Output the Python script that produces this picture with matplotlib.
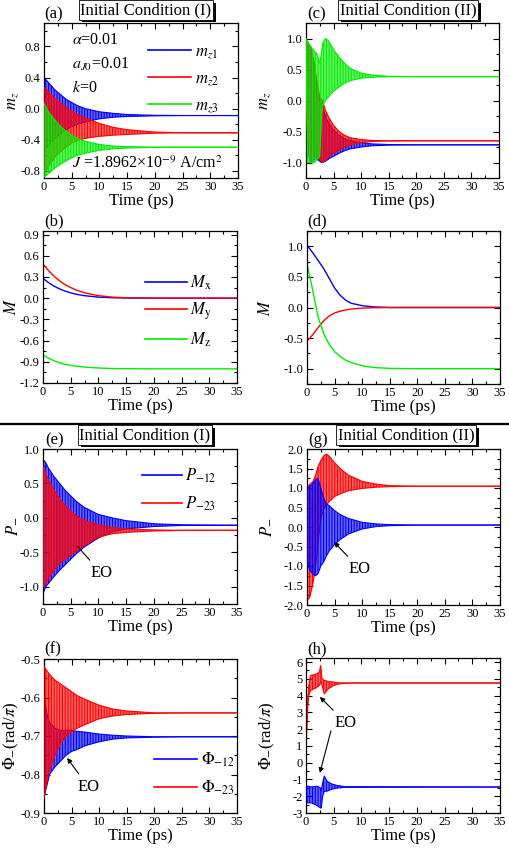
import matplotlib
matplotlib.use("Agg")
import matplotlib.pyplot as plt
import matplotlib.patheffects as pe
from matplotlib.colors import to_rgba
from matplotlib.lines import Line2D
from matplotlib.ticker import MultipleLocator

plt.rcParams['font.family'] = ['Liberation Serif', 'DejaVu Serif']
plt.rcParams['mathtext.fontset'] = 'stix'
plt.rcParams['hatch.linewidth'] = 0.8

W, H = 510, 849
BLUE, RED, GREEN = '#0000FF', '#FF0000', '#00EE00'

# ---------------- data ----------------
X_TICKS = [0, 5, 10, 15, 20, 25, 30, 35]
X_LABELS = ['0', '5', '10', '15', '20', '25', '30', '35']

# (a) Initial condition (I): m_z envelopes
TA = [0, 0.5, 1, 2, 3, 4, 5, 6, 7.5, 10, 12.5, 15, 20, 25, 35]
MZ1_UP = [0.40, 0.36, 0.32, 0.24, 0.18, 0.12, 0.08, 0.04, 0.0, -0.04, -0.06, -0.075, -0.085, -0.088, -0.088]
MZ1_LO = [-0.55, -0.5, -0.45, -0.38, -0.32, -0.27, -0.23, -0.2, -0.17, -0.13, -0.11, -0.10, -0.092, -0.088, -0.088]
MZ2_UP = [0.27, 0.24, 0.20, 0.13, 0.07, 0.02, -0.03, -0.07, -0.12, -0.19, -0.24, -0.27, -0.30, -0.31, -0.31]
MZ2_LO = [-0.85, -0.78, -0.72, -0.62, -0.55, -0.49, -0.44, -0.41, -0.38, -0.355, -0.34, -0.33, -0.315, -0.31, -0.31]
MZ3_UP = [0.07, 0.0, -0.06, -0.15, -0.23, -0.29, -0.34, -0.38, -0.42, -0.46, -0.48, -0.488, -0.494, -0.495, -0.495]
MZ3_LO = [-0.88, -0.85, -0.82, -0.76, -0.71, -0.67, -0.63, -0.6, -0.57, -0.535, -0.515, -0.505, -0.497, -0.495, -0.495]
YT_A = [-0.8, -0.4, 0.0, 0.4, 0.8]
YL_A = ['-0.8', '-0.4', '0.0', '0.4', '0.8']

# (b) Initial condition (I): M components
TB = [0, 1, 2, 3, 4, 5, 6, 7.5, 10, 12.5, 15, 20, 35]
MX_B = [0.28, 0.22, 0.17, 0.13, 0.10, 0.075, 0.055, 0.035, 0.015, 0.006, 0.002, 0.0, 0.0]
MY_B = [0.48, 0.39, 0.31, 0.245, 0.19, 0.15, 0.115, 0.075, 0.035, 0.015, 0.006, 0.001, 0.0]
MZ_B = [-0.80, -0.85, -0.885, -0.915, -0.935, -0.95, -0.962, -0.975, -0.988, -0.995, -0.998, -1.0, -1.0]
YT_B = [-1.2, -0.9, -0.6, -0.3, 0.0, 0.3, 0.6, 0.9]
YL_B = ['-1.2', '-0.9', '-0.6', '-0.3', '0.0', '0.3', '0.6', '0.9']

# (c) Initial condition (II): m_z envelopes
TC = [0, 0.3, 0.6, 1, 1.5, 2, 2.5, 2.8, 3, 3.5, 4, 4.5, 5, 6, 7, 8, 10, 12, 15, 20, 35]
GC_UP = [1.0, 0.95, 0.9, 0.85, 0.8, 0.75, 0.6, 0.75, 0.92, 1.0, 0.97, 0.9, 0.82, 0.7, 0.6, 0.52, 0.44, 0.41, 0.39, 0.385, 0.385]
GC_LO = [0.8, -1.0, -1.0, -1.0, -1.0, -0.95, -0.9, -0.3, -0.1, 0.0, 0.05, 0.1, 0.15, 0.22, 0.28, 0.32, 0.36, 0.375, 0.383, 0.385, 0.385]
RC_UP = [0.95, 0.95, 0.9, 0.85, 0.6, 0.3, 0.05, 0.02, 0.0, -0.15, -0.25, -0.33, -0.4, -0.5, -0.56, -0.6, -0.63, -0.645, -0.65, -0.65, -0.65]
RC_LO = [-0.1, -0.6, -0.9, -0.95, -0.9, -0.9, -0.95, -0.98, -1.0, -0.97, -0.92, -0.88, -0.85, -0.8, -0.75, -0.72, -0.68, -0.66, -0.652, -0.65, -0.65]
BC_UP = [0.9, 0.9, 0.85, 0.8, 0.55, 0.25, 0.0, -0.05, -0.1, -0.25, -0.35, -0.42, -0.48, -0.56, -0.62, -0.65, -0.68, -0.70, -0.71, -0.715, -0.715]
BC_LO = [-0.3, -0.7, -0.95, -1.0, -0.95, -0.95, -0.98, -1.0, -1.0, -0.98, -0.95, -0.92, -0.9, -0.85, -0.81, -0.78, -0.75, -0.73, -0.72, -0.715, -0.715]
YT_C = [-1.0, -0.5, 0.0, 0.5, 1.0]
YL_C = ['-1.0', '-0.5', '0.0', '0.5', '1.0']

# (d) Initial condition (II): M components
TD = [0, 1, 2, 3, 4, 5, 6, 7, 8, 10, 12, 15, 20, 35]
MX_D = [1.02, 0.9, 0.77, 0.64, 0.48, 0.32, 0.2, 0.12, 0.07, 0.03, 0.01, 0.0, 0.0, 0.0]
MY_D = [-0.55, -0.45, -0.33, -0.22, -0.14, -0.09, -0.06, -0.04, -0.025, -0.01, -0.004, 0.0, 0.0, 0.0]
MZ_D = [0.71, 0.3, -0.15, -0.42, -0.6, -0.72, -0.8, -0.86, -0.9, -0.95, -0.98, -0.995, -1.0, -1.0]

# (e) Initial condition (I): P envelopes
TE = [0, 0.5, 1, 2, 3, 4, 5, 6, 7.5, 10, 12.5, 15, 20, 25, 35]
P12E_UP = [0.85, 0.8, 0.72, 0.6, 0.5, 0.4, 0.32, 0.24, 0.15, 0.05, 0.0, -0.04, -0.085, -0.1, -0.107]
P12E_LO = [-1.1, -1.0, -0.95, -0.85, -0.76, -0.68, -0.6, -0.52, -0.42, -0.29, -0.2, -0.16, -0.125, -0.11, -0.107]
P23E_UP = [0.75, 0.65, 0.55, 0.4, 0.28, 0.18, 0.1, 0.03, -0.04, -0.1, -0.14, -0.16, -0.175, -0.18, -0.18]
P23E_LO = [-1.0, -0.95, -0.88, -0.76, -0.66, -0.6, -0.54, -0.48, -0.4, -0.28, -0.23, -0.21, -0.19, -0.182, -0.18]
YT_E = [-1.0, -0.5, 0.0, 0.5, 1.0]
YL_E = ['-1.0', '-0.5', '0.0', '0.5', '1.0']

# (g) Initial condition (II): P envelopes
TG = [0, 0.25, 0.5, 1, 1.5, 2, 2.5, 3, 3.5, 4, 5, 6, 7.5, 10, 12.5, 15, 20, 35]
P23G_UP = [1.0, 1.05, 1.1, 1.15, 1.3, 1.55, 1.7, 1.82, 1.87, 1.82, 1.65, 1.5, 1.33, 1.17, 1.1, 1.06, 1.045, 1.045]
P23G_LO = [-1.8, -1.85, -1.8, -1.5, -1.1, -0.4, 0.2, 0.45, 0.55, 0.65, 0.78, 0.85, 0.93, 0.99, 1.02, 1.035, 1.045, 1.045]
P12G_UP = [0.9, 1.0, 1.05, 1.1, 1.2, 1.25, 1.0, 0.75, 0.6, 0.55, 0.42, 0.32, 0.22, 0.12, 0.08, 0.06, 0.05, 0.05]
P12G_LO = [-0.8, -1.0, -1.1, -1.2, -1.25, -1.2, -1.0, -0.9, -0.75, -0.62, -0.45, -0.32, -0.18, -0.05, 0.01, 0.035, 0.05, 0.05]
YT_G = [-2.0, -1.5, -1.0, -0.5, 0.0, 0.5, 1.0, 1.5, 2.0]
YL_G = ['-2.0', '-1.5', '-1.0', '-0.5', '0.0', '0.5', '1.0', '1.5', '2.0']

# (f) Initial condition (I): phase envelopes
TF = [0, 0.5, 1, 2, 3, 4, 5, 6, 7.5, 10, 12.5, 15, 20, 25, 35]
F23_UP = [-0.52, -0.53, -0.54, -0.555, -0.565, -0.575, -0.585, -0.595, -0.605, -0.62, -0.63, -0.635, -0.64, -0.64, -0.64]
F23_LO = [-0.86, -0.82, -0.79, -0.75, -0.72, -0.70, -0.69, -0.68, -0.67, -0.655, -0.648, -0.644, -0.641, -0.64, -0.64]
F12_UP = [-0.6, -0.64, -0.665, -0.68, -0.685, -0.685, -0.685, -0.688, -0.69, -0.695, -0.698, -0.7, -0.702, -0.702, -0.702]
F12_LO = [-0.86, -0.83, -0.8, -0.78, -0.765, -0.75, -0.74, -0.735, -0.725, -0.715, -0.708, -0.705, -0.703, -0.702, -0.702]
YT_F = [-0.9, -0.8, -0.7, -0.6, -0.5]
YL_F = ['-0.9', '-0.8', '-0.7', '-0.6', '-0.5']

# (h) Initial condition (II): phase envelopes
TH_R = [0, 0.15, 0.3, 0.5, 0.8, 1.5, 2.0, 2.4, 2.65, 2.9, 3.3, 4, 5, 6, 8, 35]
F23H_UP = [0.9, 2.6, 3.8, 4.6, 5.2, 5.25, 5.3, 5.4, 5.8, 5.0, 4.9, 4.85, 4.8, 4.76, 4.75, 4.75]
F23H_LO = [0.8, 2.0, 3.2, 4.0, 4.3, 4.4, 4.5, 4.6, 4.8, 4.6, 4.1, 4.4, 4.6, 4.7, 4.75, 4.75]
TH_B = [0, 0.3, 1, 2, 2.6, 2.75, 3.0, 3.3, 3.8, 4.5, 5.5, 7, 35]
F12H_UP = [-1.5, -1.4, -1.45, -1.4, -1.5, -1.7, -1.2, -0.8, -1.1, -1.25, -1.35, -1.43, -1.45]
F12H_LO = [-1.6, -2.4, -2.4, -2.55, -2.7, -2.7, -2.0, -1.7, -1.7, -1.6, -1.52, -1.47, -1.45]
YT_H = [-3, -2, -1, 0, 1, 2, 3, 4, 5, 6]
YL_H = ['-3', '-2', '-1', '0', '1', '2', '3', '4', '5', '6']

# ---------------- figure ----------------
fig = plt.figure(figsize=(W / 100, H / 100), dpi=100)


def add_axes(x0, y0, x1, y1):
    return fig.add_axes([x0 / W, 1 - y1 / H, (x1 - x0) / W, (y1 - y0) / H])


def fx(px):
    return px / W


def fy(py):
    return 1 - py / H


def style(ax, ylim, yt, yl, yminor, ylabel, ylab_x):
    ax.set_xlim(0, 35)
    ax.set_ylim(*ylim)
    ax.set_xticks(X_TICKS)
    ax.set_xticklabels(X_LABELS)
    ax.set_yticks(yt)
    ax.set_yticklabels(yl)
    ax.xaxis.set_minor_locator(MultipleLocator(2.5))
    ax.yaxis.set_minor_locator(MultipleLocator(yminor))
    ax.tick_params(which='both', direction='in', top=True, right=True,
                   labelsize=9, width=0.8, pad=2.5)
    ax.tick_params(which='major', length=4)
    ax.tick_params(which='minor', length=2)
    for s in ax.spines.values():
        s.set_linewidth(0.9)
    ax.set_xlabel('Time (ps)', fontsize=12, labelpad=0)
    ax.set_ylabel(ylabel, fontsize=12)
    ax.yaxis.set_label_coords(ylab_x, 0.5)


def band(ax, t, up, lo, color, z):
    ax.fill_between(t, lo, up, facecolor=to_rgba(color, 0.6), edgecolor=color,
                    hatch='||||||', linewidth=0, zorder=z)
    ax.plot(t, up, color=color, lw=0.8, zorder=z + 0.1)
    ax.plot(t, lo, color=color, lw=0.8, zorder=z + 0.1)


def title_box(xc, yc, text):
    t = fig.text(fx(xc), fy(yc), text, ha='center', va='center', fontsize=12,
                 bbox=dict(boxstyle='square,pad=0.1', fc='white', ec='black', lw=0.6))
    t.get_bbox_patch().set_path_effects(
        [pe.withSimplePatchShadow(offset=(2.0, -2.0), shadow_rgbFace='black', alpha=1.0)])


def legend(ax, handles, labels, x0, ytop, hl, spacing):
    leg = ax.legend(handles, labels, loc='upper left', bbox_to_anchor=(fx(x0), fy(ytop)),
                    bbox_transform=fig.transFigure, frameon=False, fontsize=12,
                    handlelength=hl, handletextpad=0.2, borderpad=0, borderaxespad=0,
                    labelspacing=spacing)
    return leg


ARROW = dict(arrowstyle='-|>', color='black', lw=0.8, mutation_scale=7, shrinkA=2, shrinkB=0)

# (a)
axa = add_axes(44, 23, 238, 178)
band(axa, TA, MZ1_UP, MZ1_LO, BLUE, 2)
band(axa, TA, MZ2_UP, MZ2_LO, RED, 3)
band(axa, TA, MZ3_UP, MZ3_LO, GREEN, 4)
style(axa, (-0.89, 1.1), YT_A, YL_A, 0.2, r'$m_z$', -0.12)
hA = [Line2D([], [], color=c, lw=1.2) for c in (BLUE, RED, GREEN)]
legend(axa, hA, [r'$m_{z1}$', r'$m_{z2}$', r'$m_{z3}$'], 148, 44, 2.6, 0.6)
fig.text(fx(72), fy(40), r'$\alpha$=0.01', fontsize=11.5, va='center')
fig.text(fx(72), fy(64), r'$a_{J0}$=0.01', fontsize=11.5, va='center')
fig.text(fx(72), fy(88), r'$k$=0', fontsize=11.5, va='center')
fig.text(fx(72), fy(164), r'$J$ =1.8962×10$^{-9}$ A/cm$^{2}$', fontsize=11.5, va='center')

# (b)
axb = add_axes(43, 231, 237, 383)
axb.plot(TB, MX_B, color=BLUE, lw=1)
axb.plot(TB, MY_B, color=RED, lw=1)
axb.plot(TB, MZ_B, color=GREEN, lw=1)
style(axb, (-1.2, 0.95), YT_B, YL_B, 0.15, r'$M$', -0.12)
hB = [Line2D([], [], color=c, lw=1.2) for c in (BLUE, RED, GREEN)]
legend(axb, hB, [r'$M_{\mathrm{x}}$', r'$M_{\mathrm{y}}$', r'$M_{\mathrm{z}}$'], 145, 274, 2.5, 0.5)

# (c)
axc = add_axes(306, 23, 499, 178)
band(axc, TC, BC_UP, BC_LO, BLUE, 2)
band(axc, TC, RC_UP, RC_LO, RED, 3)
band(axc, TC, GC_UP, GC_LO, GREEN, 4)
style(axc, (-1.25, 1.25), YT_C, YL_C, 0.25, r'$m_z$', -0.17)

# (d)
axd = add_axes(307, 231, 500, 384)
axd.plot(TD, MX_D, color=BLUE, lw=1)
axd.plot(TD, MY_D, color=RED, lw=1)
axd.plot(TD, MZ_D, color=GREEN, lw=1)
style(axd, (-1.25, 1.25), YT_C, YL_C, 0.25, r'$M$', -0.17)

# (e)
axe = add_axes(43, 449, 237, 604)
band(axe, TE, P12E_UP, P12E_LO, BLUE, 2)
band(axe, TE, P23E_UP, P23E_LO, RED, 3)
style(axe, (-1.25, 1.0), YT_E, YL_E, 0.25, r'$P_{-}$', -0.12)
hE = [Line2D([], [], color=c, lw=1.2) for c in (BLUE, RED)]
legend(axe, hE, [r'$P_{\mathrm{-12}}$', r'$P_{\mathrm{-23}}$'], 142, 467, 2.4, 0.55)
axe.annotate('EO', xy=(6.3, -0.42), xytext=(10.5, -0.8), fontsize=12, ha='center', va='center',
             arrowprops=dict(arrowstyle='-', color='black', lw=0.8, shrinkA=2, shrinkB=0))

# (g)
axg = add_axes(307, 449, 500, 605)
band(axg, TG, P12G_UP, P12G_LO, BLUE, 3)
band(axg, TG, P23G_UP, P23G_LO, RED, 2)
style(axg, (-2.0, 2.0), YT_G, YL_G, 0.25, r'$P_{-}$', -0.17)
axg.annotate('EO', xy=(4.9, -0.385), xytext=(9.6, -1.08), fontsize=12, ha='center', va='center',
             arrowprops=ARROW)

# (f)
axf = add_axes(44, 659, 237, 813)
band(axf, TF, F12_UP, F12_LO, BLUE, 2)
band(axf, TF, F23_UP, F23_LO, RED, 3)
style(axf, (-0.9, -0.5), YT_F, YL_F, 0.05, r'$\Phi_{-}$(rad/$\pi$)', -0.12)
hF = [Line2D([], [], color=c, lw=1.2) for c in (BLUE, RED)]
legend(axf, hF, [r'$\Phi_{\mathrm{-12}}$', r'$\Phi_{\mathrm{-23}}$'], 154, 751, 2.6, 0.55)
axf.annotate('EO', xy=(4.2, -0.757), xytext=(8.0, -0.832), fontsize=12, ha='center', va='center',
             arrowprops=ARROW)

# (h)
axh = add_axes(306, 658, 500, 813)
band(axh, TH_R, F23H_UP, F23H_LO, RED, 2)
band(axh, TH_B, F12H_UP, F12H_LO, BLUE, 3)
style(axh, (-3, 6.24), YT_H, YL_H, 0.5, r'$\Phi_{-}$(rad/$\pi$)', -0.15)
axh.annotate('EO', xy=(2.5, 3.92), xytext=(7.2, 2.37), fontsize=12, ha='center', va='center',
             arrowprops=ARROW)
axh.annotate('', xy=(2.5, -0.61), xytext=(4.5, 1.9), arrowprops=dict(ARROW, shrinkA=0))

# panel labels
for lab, x, y in [('(a)', 44, 14), ('(c)', 307, 14), ('(b)', 44, 221), ('(d)', 307, 221),
                  ('(e)', 45, 440), ('(g)', 308, 440), ('(f)', 44, 649), ('(h)', 307, 649)]:
    fig.text(fx(x), fy(y), lab, fontsize=12, va='center', ha='left')

# title boxes
title_box(146, 10, 'Initial Condition (I)')
title_box(408, 10, 'Initial Condition (II)')
title_box(145, 435, 'Initial Condition (I)')
title_box(406, 435, 'Initial Condition (II)')

# separator
fig.add_artist(Line2D([0, 1], [fy(424), fy(424)], transform=fig.transFigure, color='black', lw=1.6))

fig.savefig('out.png', dpi=100)
